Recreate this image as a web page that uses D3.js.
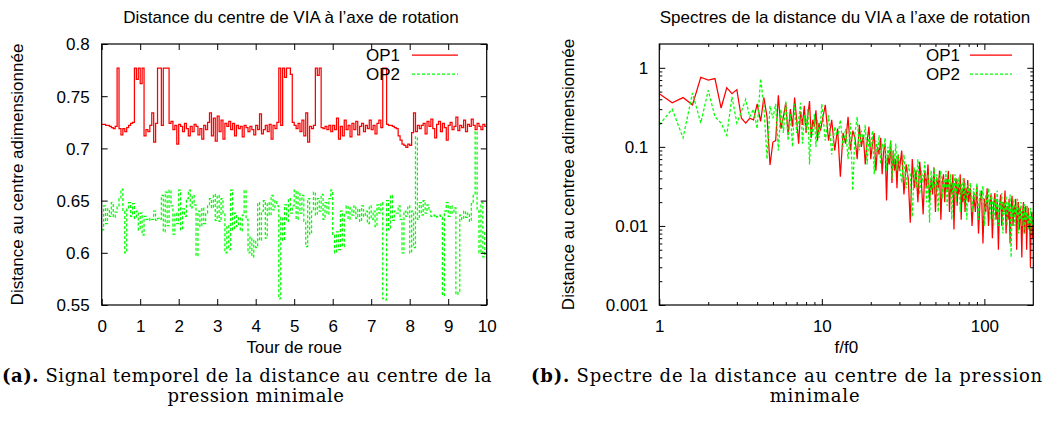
<!DOCTYPE html>
<html><head><meta charset="utf-8">
<script src="https://cdn.jsdelivr.net/npm/d3@7"></script>
<style>
body{margin:0;background:#fff}
svg{display:block}
text{font-family:"Liberation Sans",Arial,Helvetica,sans-serif;fill:#000}
</style>
</head><body>
<svg id="c" width="1057" height="421"></svg>
<script>
// ---------------- DATA ----------------
const seriesNames = ["OP1", "OP2"];
// time axis (Tour de roue), one sample every 0.05 turn
const timeTurns = d3.range(201).map(i => i / 20);
const op1Time = [
 .723,.723,.722,.722,.721,.720,.719,.721,.777,.719,.713,.719,.716,.720,.722,.724,.725,.777,.766,.777,
 .762,.777,.712,.718,.716,.722,.734,.706,.724,.777,.777,.722,.777,.777,.777,.724,.726,.718,.722,.704,
 .723,.721,.716,.724,.719,.712,.721,.716,.723,.721,.713,.719,.709,.722,.718,.725,.734,.712,.729,.707,
 .731,.716,.727,.709,.724,.721,.726,.718,.724,.712,.722,.719,.721,.711,.722,.720,.716,.721,.718,.713,
 .722,.718,.733,.714,.718,.722,.716,.723,.709,.722,.719,.725,.777,.722,.777,.768,.777,.777,.771,.725,
 .722,.719,.724,.716,.727,.712,.734,.706,.721,.719,.722,.777,.770,.777,.720,.719,.721,.718,.722,.716,
 .722,.718,.729,.709,.721,.712,.727,.718,.722,.711,.724,.718,.726,.713,.721,.724,.716,.722,.719,.727,
 .718,.722,.714,.724,.727,.720,.777,.777,.723,.722,.722,.721,.720,.719,.712,.708,.704,.703,.701,.704,
 .703,.715,.734,.716,.722,.719,.722,.724,.714,.726,.721,.728,.719,.710,.723,.726,.716,.724,.720,.708,
 .722,.725,.718,.721,.730,.717,.722,.720,.727,.716,.723,.721,.728,.722,.718,.724,.721,.718,.723,.721,
 .722];
const op2Time = [
 .622,.645,.628,.642,.635,.648,.634,.639,.644,.652,.661,.640,.600,.643,.648,.635,.647,.633,.640,.622,
 .638,.617,.635,.632,.631,.633,.632,.640,.631,.633,.632,.655,.620,.658,.626,.660,.645,.618,.638,.628,
 .660,.622,.642,.635,.652,.660,.643,.655,.646,.597,.640,.625,.643,.628,.638,.645,.652,.643,.656,.631,
 .655,.630,.652,.638,.600,.626,.603,.660,.622,.638,.625,.634,.621,.636,.660,.632,.600,.615,.596,.612,
 .605,.648,.612,.640,.650,.614,.648,.636,.655,.641,.650,.645,.556,.634,.612,.646,.630,.652,.638,.645,
 .660,.632,.658,.638,.655,.630,.606,.652,.618,.640,.658,.636,.652,.640,.656,.632,.648,.637,.652,.660,
 .617,.600,.620,.603,.640,.606,.638,.645,.632,.643,.636,.645,.633,.642,.630,.645,.635,.640,.628,.645,
 .632,.640,.625,.646,.638,.648,.556,.555,.650,.622,.655,.631,.640,.638,.645,.632,.600,.640,.635,.645,
 .600,.640,.605,.711,.632,.648,.636,.650,.638,.646,.640,.635,.636,.634,.635,.636,.634,.559,.640,.648,
 .635,.645,.638,.643,.560,.562,.636,.632,.640,.634,.638,.630,.647,.655,.716,.640,.600,.648,.596,.620,
 .630];
const timeTicks = [0,1,2,3,4,5,6,7,8,9,10];
const distTicks = [0.55,0.6,0.65,0.7,0.75,0.8];

// spectrum frequency axis (f/f0)
const specFreq = [].concat(
  d3.range(10, 100, 2).map(v => v / 10),
  d3.range(20, 60).map(v => v / 2),
  d3.range(30, 80),
  d3.range(80, 201, 2));
const op1Spec = [
 .47,.36,.42,.34,.76,.70,.73,.31,.56,.47,
 .53,.23,.20,.23,.22,.35,.21,.42,.24,.059,
 .115,.12,.45,.17,.24,.36,.14,.30,.18,.42,
 .22,.11,.28,.19,.33,.15,.25,.38,.13,.22,
 .18,.29,.12,.20,.16,
 .20,.34,.12,.22,.09,.17,.042,.15,.11,.24,
 .09,.16,.13,.07,.19,.10,.14,.06,.12,.18,
 .07,.11,.15,.05,.10,.08,.13,.045,.09,.11,
 .021,.08,.06,.12,.035,.09,.05,.07,.03,.08,
 .05,.09,.025,.06,.04,.011,.07,.03,.05,.02,
 .065,.035,.014,.05,.03,.06,.02,.04,.025,.055,
 .015,.04,.03,.05,.012,.035,.045,.02,.04,.028,
 .05,.015,.035,.025,.045,.009,.03,.04,.018,.035,
 .025,.045,.012,.03,.02,.04,.015,.03,.022,.038,
 .02,.03,.01,.025,.015,.032,.008,.02,.028,.006,
 .022,.015,.03,.01,.02,.025,.007,.018,.026,.012,
 .022,.005,.018,.025,.01,.02,.015,.028,.008,.018,
 .012,.022,.006,.016,.024,.01,.018,.014,.022,.005,
 .015,.02,.009,.017,.012,.004,.015,.02,.008,.014,
 .018,.005,.013,.017,.009,.012,.003,.011,.015,.007,
 .012];
const op2Spec = [
 .19,.30,.13,.48,.20,.52,.24,.20,.14,.43,
 .20,.28,.40,.24,.30,.17,.73,.33,.07,.33,
 .23,.35,.09,.30,.15,.38,.12,.26,.10,.35,
 .15,.22,.36,.11,.25,.16,.30,.06,.20,.14,
 .26,.10,.22,.13,.19,
 .35,.12,.25,.08,.18,.13,.22,.10,.17,.07,
 .20,.028,.15,.24,.09,.16,.12,.19,.06,.14,
 .10,.16,.045,.12,.08,.14,.06,.11,.09,.13,
 .05,.10,.07,.12,.04,.09,.06,.11,.05,.08,
 .06,.035,.08,.03,.06,.045,.013,.055,.03,.07,
 .025,.05,.035,.065,.02,.045,.011,.05,.03,.055,
 .025,.045,.015,.04,.05,.022,.04,.03,.05,.018,
 .04,.03,.045,.012,.035,.025,.045,.02,.04,.03,
 .042,.015,.035,.025,.04,.02,.035,.028,.012,.033,
 .025,.035,.015,.03,.02,.035,.012,.028,.02,.032,
 .01,.025,.018,.03,.012,.026,.02,.01,.022,.015,
 .028,.01,.022,.016,.026,.008,.02,.014,.024,.01,
 .02,.015,.025,.004,.018,.013,.022,.01,.018,.014,
 .022,.008,.017,.012,.02,.01,.016,.012,.019,.008,
 .015,.012,.018,.009,.014,.011,.017,.008,.013,.01,
 .015];
const freqTicks = [1,10,100];
const specTicks = [0.001,0.01,0.1,1];

// ---------------- LAYOUT ----------------
const svg = d3.select("#c");
const A = {l:101.7, r:486.7, t:44, b:305};
const B = {l:659.3, r:1033.3, t:44, b:305};
const RED = "#ff0000", GREEN = "#00ff00";
const FS = 17;

const xA = d3.scaleLinear().domain([0,10]).range([A.l,A.r]);
const yA = d3.scaleLinear().domain([0.55,0.8]).range([A.b,A.t]);
const xB = d3.scaleLog().domain([1,200]).range([B.l,B.r]);
const yB = d3.scaleLog().domain([0.001,2]).range([B.b,B.t]);

const defs = svg.append("defs");
[["clipA",A],["clipB",B]].forEach(([id,P]) => {
  defs.append("clipPath").attr("id",id).append("rect")
    .attr("x",P.l).attr("y",P.t).attr("width",P.r-P.l).attr("height",P.b-P.t);
});

function drawAxes(P, x, y, xt, yt, xfmt, yfmt, xminor, yminor, ylabPad) {
  const g = svg.append("g");
  const maj = 6, mn = 3;
  const style = s => { s.select(".domain").remove(); s.selectAll("line").attr("stroke","#000").attr("stroke-width",1); s.attr("font-size",null).attr("font-family",null); };
  const gb = g.append("g").attr("transform",`translate(0,${P.b})`)
    .call(d3.axisBottom(x).tickValues(xt).tickSize(-maj).tickFormat(xfmt)).call(style);
  gb.selectAll("text").attr("y",21).attr("dy","0.35em").style("font-size",FS+"px");
  g.append("g").attr("transform",`translate(0,${P.t})`)
    .call(d3.axisTop(x).tickValues(xt).tickSize(-maj).tickFormat("")).call(style);
  const gl = g.append("g").attr("transform",`translate(${P.l},0)`)
    .call(d3.axisLeft(y).tickValues(yt).tickSize(-maj).tickPadding(ylabPad).tickFormat(yfmt)).call(style);
  gl.selectAll("text").attr("dy","0.35em").style("font-size",FS+"px");
  g.append("g").attr("transform",`translate(${P.r},0)`)
    .call(d3.axisRight(y).tickValues(yt).tickSize(-maj).tickFormat("")).call(style);
  if (xminor) {
    g.append("g").attr("transform",`translate(0,${P.b})`).call(d3.axisBottom(x).tickValues(xminor).tickSize(-mn).tickFormat("")).call(style);
    g.append("g").attr("transform",`translate(0,${P.t})`).call(d3.axisTop(x).tickValues(xminor).tickSize(-mn).tickFormat("")).call(style);
  }
  if (yminor) {
    g.append("g").attr("transform",`translate(${P.l},0)`).call(d3.axisLeft(y).tickValues(yminor).tickSize(-mn).tickFormat("")).call(style);
    g.append("g").attr("transform",`translate(${P.r},0)`).call(d3.axisRight(y).tickValues(yminor).tickSize(-mn).tickFormat("")).call(style);
  }
  g.append("rect").attr("x",P.l).attr("y",P.t).attr("width",P.r-P.l).attr("height",P.b-P.t)
    .attr("fill","none").attr("stroke","#000").attr("stroke-width",1.2);
}

const LW = 1.25;
// ---- panel A: time signal ----
const lineA = d3.line().x((d,i) => xA(timeTurns[i])).y(d => yA(d)).curve(d3.curveStepAfter);
const pA = svg.append("g").attr("clip-path","url(#clipA)");
pA.append("path").attr("d", lineA(op1Time)).attr("fill","none").attr("stroke",RED).attr("stroke-width",LW);
pA.append("path").attr("d", lineA(op2Time)).attr("fill","none").attr("stroke",GREEN).attr("stroke-width",LW).attr("stroke-dasharray","3,2");
drawAxes(A, xA, yA, timeTicks, distTicks, d3.format("d"), d => String(+d.toFixed(2)), null, null, 12);

// ---- panel B: spectrum ----
const lineB = d3.line().x((d,i) => xB(specFreq[i])).y(d => yB(d));
const pB = svg.append("g").attr("clip-path","url(#clipB)");
pB.append("path").attr("d", lineB(op1Spec.slice(0,specFreq.length))).attr("fill","none").attr("stroke",RED).attr("stroke-width",LW);
pB.append("path").attr("d", lineB(op2Spec.slice(0,specFreq.length))).attr("fill","none").attr("stroke",GREEN).attr("stroke-width",LW).attr("stroke-dasharray","3,2");
const xMinorB = [2,3,4,5,6,7,8,9,20,30,40,50,60,70,80,90];
const yMinorB = [];
[0.001,0.01,0.1].forEach(p => { for (let k=2;k<=9;k++) yMinorB.push(+(p*k).toPrecision(3)); });
drawAxes(B, xB, yB, freqTicks, specTicks, d => String(d), d => String(d), xMinorB, yMinorB, 11);

// ---- titles & labels ----
function txt(x, y, s, opts={}) {
  const t = svg.append("text").attr("x",x).attr("y",y).text(s)
    .style("font-size",(opts.fs||FS)+"px").attr("text-anchor",opts.anchor||"middle");
  if (opts.rot) t.attr("transform",`rotate(-90,${x},${y})`);
  return t;
}
txt(291, 23, "Distance du centre de VIA à l’axe de rotation", {fs:17});
txt(845, 23, "Spectres de la distance du VIA a l’axe de rotation", {fs:17});
txt((A.l+A.r)/2, 353, "Tour de roue");
txt((B.l+B.r)/2, 353, "f/f0");
txt(23, (A.t+A.b)/2, "Distance au centre adimensionnée", {rot:true});
txt(574, (B.t+B.b)/2, "Distance au centree adimensionnée", {rot:true});

// ---- legends ----
function legend(xEnd, lineX0, lineX1) {
  [[seriesNames[0],RED,null,55],[seriesNames[1],GREEN,"3,2",74]].forEach(([n,c,dash,y]) => {
    txt(xEnd, y, n, {anchor:"end"}).attr("dy","0.35em");
    svg.append("line").attr("x1",lineX0).attr("x2",lineX1).attr("y1",y).attr("y2",y)
      .attr("stroke",c).attr("stroke-width",LW).attr("stroke-dasharray",dash);
  });
}
legend(400, 412, 458);
legend(960, 970, 1012);

// ---- captions ----
const SERIF = "'DejaVu Serif','Liberation Serif',serif";
const CFS = 18;
function capLine(cx, y, bold, rest, target, ls) {
  const t = svg.append("text").attr("x",cx).attr("y",y).attr("text-anchor","middle")
    .style("font-family",SERIF).style("font-size",CFS+"px");
  if (bold) t.append("tspan").style("font-weight","bold").text(bold);
  t.append("tspan").text(rest);
  const n = ((bold||"") + rest).length;
  if (target) {
    const w = t.node().getComputedTextLength();
    ls = Math.max(0, (target - w) / n);
  }
  t.style("letter-spacing", ls + "px");
  return ls;
}
const lsA = capLine(247, 382, "(a).", " Signal temporel de la distance au centre de la", 490);
capLine(256, 402, null, "pression minimale", null, lsA);
const lsB = capLine(787, 382, "(b).", " Spectre de la distance au centre de la pression", 512);
capLine(815, 402, null, "minimale", null, lsB);
</script>
</body></html>
